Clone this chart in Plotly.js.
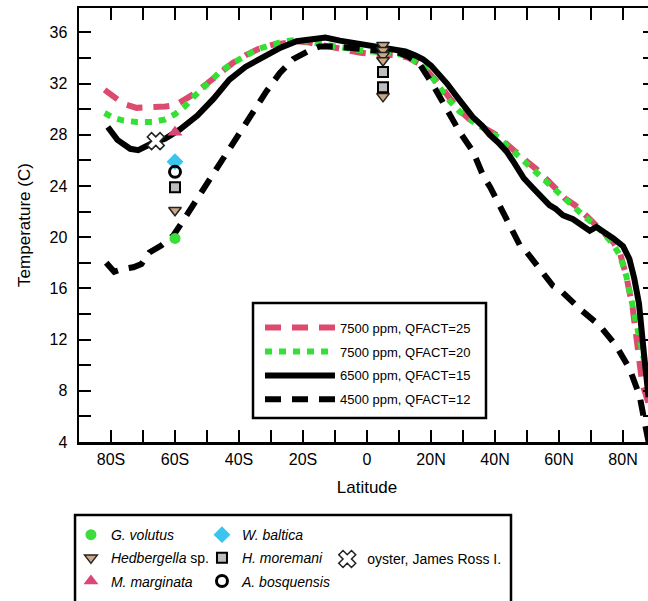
<!DOCTYPE html>
<html><head><meta charset="utf-8">
<script src="https://cdn.plot.ly/plotly-3.0.1.min.js"></script>
<style>html,body{margin:0;padding:0;overflow:hidden;background:#fff}#chart{width:680px;height:640px}</style>
</head><body><div id="chart"></div>
<script>
// ---- model curves (latitude, temperature) ----
const latQ25 = [-82,-79,-76,-72,-67,-63,-60,-57,-54,-50,-46,-42,-38,-34,-30,-26,-22,-18,-14,-10,-6,-2,2,6,10,13,16,18,20,23,26,29,32,35,38,41,44,47,50,53,56,59,62,65,68,71,74,77,79,81,83,84.5,86,88];
const tempQ25 = [31.5,30.9,30.4,30.1,30.1,30.2,30.3,30.7,31.2,32.0,32.8,33.6,34.2,34.7,35.0,35.2,35.3,35.2,35.0,34.7,34.5,34.4,34.3,34.3,34.2,34.0,33.6,33.2,32.7,31.8,30.8,29.9,29.2,28.8,28.4,27.9,27.2,26.5,25.9,25.3,24.6,23.8,23.0,22.5,21.8,21.1,20.4,19.6,18.8,17.0,14.5,11.5,8.6,7.0];

const latQ20 = [-82,-79,-76,-72,-67,-63,-60,-57,-54,-50,-46,-42,-38,-34,-30,-26,-22,-18,-14,-10,-6,-2,2,6,10,13,16,18,20,23,26,29,32,35,38,41,44,47,50,53,56,59,62,65,68,71,74,77,79,81,83,85,86.5,88];
const tempQ20 = [29.7,29.3,29.1,29.0,29.0,29.2,29.6,30.2,31.0,32.0,32.9,33.6,34.2,34.7,35.0,35.3,35.4,35.3,35.1,34.9,34.7,34.6,34.5,34.4,34.3,34.1,33.6,33.2,32.6,31.6,30.6,29.8,29.2,28.7,28.3,27.8,27.1,26.4,25.8,25.1,24.4,23.6,22.9,22.3,21.6,21.0,20.3,19.4,18.6,17.0,14.8,12.5,10.5,8.5];

const latQ15 = [-81,-78,-74,-71.5,-67.5,-63,-58.5,-53,-48,-43,-38,-32.5,-27,-22,-17,-13,-8.5,-3,3,8,12,15,17.5,20,22.7,25,28,31,33,36,38.3,41,43.6,46,49,52,54,57,59,61.3,64.4,67,69.6,71.7,74.8,77,80,82,83.5,85,86.5,88];
const tempQ15 = [28.6,27.6,26.9,26.8,27.3,27.7,28.4,29.5,30.8,32.3,33.3,34.1,34.8,35.3,35.5,35.6,35.35,35.1,34.9,34.6,34.5,34.2,33.9,33.4,32.7,32.0,31.0,30.1,29.4,28.7,28.0,27.4,26.7,25.8,24.6,23.8,23.3,22.5,22.2,21.7,21.4,21.0,20.5,20.8,20.3,19.9,19.3,18.3,16.8,14.8,11.0,7.5];

const latQ12 = [-81.5,-79,-76.5,-73,-70.5,-68,-64.3,-60.6,-56.4,-52.3,-48.1,-43.9,-39.8,-35.6,-31.4,-27.3,-23.1,-17.9,-14.8,-10,-5,0,5,10,13,16.5,20.6,24.8,29,33.1,36.3,38.5,40.4,43.6,47.7,50,54,58.1,60.2,62.3,66.5,72.7,77.9,82.1,85.2,86.8,88];
const tempQ12 = [18.0,17.3,17.5,17.65,17.9,18.8,19.35,20.1,21.7,23.3,24.8,26.4,28.0,29.8,31.4,32.8,33.9,34.6,34.9,34.9,34.8,34.7,34.6,34.4,34.1,33.5,31.9,30.1,28.2,26.7,24.8,23.9,23.0,21.4,19.4,18.8,17.5,16.2,15.9,15.4,14.4,13.1,11.5,9.7,7.6,5.5,4.0];

// ---- proxy data ----
const gvolLat = [-60], gvolT = [19.9];
const hedbLat = [-60, 5, 5, 5, 5, 5], hedbT = [22.1, 35.0, 34.6, 34.2, 33.8, 31.0];
const mmarLat = [-60], mmarT = [28.2];
const wbalLat = [-60], wbalT = [25.9];
const hmorLat = [-60, 5, 5], hmorT = [23.9, 32.9, 31.7];
const aboLat = [-60], aboT = [25.1];
const oysLat = [-66], oysT = [27.5];

// ---- ticks ----
const yTickVals = [4,6,8,10,12,14,16,18,20,22,24,26,28,30,32,34,36];
const yTickText = ['4','','8','','12','','16','','20','','24','','28','','32','','36'];
const xTickVals = [-80,-70,-60,-50,-40,-30,-20,-10,0,10,20,30,40,50,60,70,80];
const xTickText = ['80S','','60S','','40S','','20S','','0','','20N','','40N','','60N','','80N'];

const FONT = 'Liberation Sans, Arial, Helvetica, sans-serif';
const PINK = '#dc4a6e', GREEN = '#33e033';

const traces = [
  {x: latQ25, y: tempQ25, mode: 'lines', name: '7500 ppm, QFACT=25', legendgroup: 'a',
   line: {color: PINK, width: 6, dash: '16px,11px'}},
  {x: latQ20, y: tempQ20, mode: 'lines', name: '7500 ppm, QFACT=20', legendgroup: 'b',
   line: {color: GREEN, width: 6, dash: '7px,7px'}},
  {x: latQ15, y: tempQ15, mode: 'lines', name: '6500 ppm, QFACT=15', legendgroup: 'c',
   line: {color: '#000000', width: 6}},
  {x: latQ12, y: tempQ12, mode: 'lines', name: '4500 ppm, QFACT=12', legendgroup: 'd',
   line: {color: '#000000', width: 6, dash: '16px,11px'}},

  {x: gvolLat, y: gvolT, mode: 'markers', name: '<i>G. volutus</i>', legend: 'legend2', legendgroup: 'e',
   marker: {symbol: 'circle', size: 11, color: '#3ddc3d'}},
  {x: hedbLat, y: hedbT, mode: 'markers', name: '<i>Hedbergella</i> sp.', legend: 'legend2', legendgroup: 'f',
   marker: {symbol: 'triangle-down', size: 11, color: '#c9a883', line: {color: '#222', width: 1.5}}},
  {x: mmarLat, y: mmarT, mode: 'markers', name: '<i>M. marginata</i>', legend: 'legend2', legendgroup: 'g',
   marker: {symbol: 'triangle-up', size: 13, color: '#d9467a'}},
  {x: wbalLat, y: wbalT, mode: 'markers', name: '<i>W. baltica</i>', legend: 'legend3', legendgroup: 'h',
   marker: {symbol: 'diamond', size: 13, color: '#3cc4ee'}},
  {x: hmorLat, y: hmorT, mode: 'markers', name: '<i>H. moremani</i>', legend: 'legend3', legendgroup: 'i',
   marker: {symbol: 'square', size: 10, color: '#bdbdbd', line: {color: '#000', width: 2}}},
  {x: aboLat, y: aboT, mode: 'markers', name: '<i>A. bosquensis</i>', legend: 'legend3', legendgroup: 'j',
   marker: {symbol: 'circle-open', size: 11, color: '#000', line: {color: '#000', width: 3}}},
  {x: oysLat, y: oysT, mode: 'markers', name: 'oyster, James Ross I.', legend: 'legend4', legendgroup: 'k',
   marker: {symbol: 'x', size: 15, color: '#ffffff', line: {color: '#222', width: 1.5}}}
];

const axisCommon = {
  showline: true, linecolor: '#000', linewidth: 2.5, mirror: 'ticks',
  ticks: 'inside', ticklen: 12, tickwidth: 2, tickcolor: '#000',
  showgrid: false, zeroline: false, tickmode: 'array',
  tickfont: {family: FONT, size: 16, color: '#000'}
};

const legendCommon = {
  bgcolor: 'rgba(0,0,0,0)', borderwidth: 0, orientation: 'v',
  xanchor: 'left', yanchor: 'top', tracegroupgap: 4
};

const layout = {
  width: 680, height: 640,
  margin: {l: 79, r: 25, t: 8, b: 198},
  paper_bgcolor: '#fff', plot_bgcolor: '#fff',
  font: {family: FONT, color: '#000'},
  xaxis: Object.assign({}, axisCommon, {
    range: [-90, 90], tickvals: xTickVals, ticktext: xTickText, ticklabelstandoff: 1,
    title: {text: 'Latitude', font: {family: FONT, size: 17, color: '#000'}, standoff: 15}
  }),
  yaxis: Object.assign({}, axisCommon, {
    range: [4, 37.9], tickvals: yTickVals, ticktext: yTickText, ticklabelstandoff: 6,
    title: {text: 'Temperature (C)', font: {family: FONT, size: 17, color: '#000'}, standoff: 15}
  }),
  legend: Object.assign({}, legendCommon, {
    x: 0.3142, y: 0.298, itemwidth: 70, tracegroupgap: 4, font: {family: FONT, size: 13, color: '#000'}
  }),
  legend2: Object.assign({}, legendCommon, {
    x: -0.014, y: -0.1775, font: {family: FONT, size: 14, color: '#000'}, tracegroupgap: 2
  }),
  legend3: Object.assign({}, legendCommon, {
    x: 0.2135, y: -0.1775, font: {family: FONT, size: 14, color: '#000'}, tracegroupgap: 2
  }),
  legend4: Object.assign({}, legendCommon, {
    x: 0.431, y: -0.2335, font: {family: FONT, size: 14, color: '#000'}
  }),
  shapes: [
    {type: 'rect', xref: 'paper', yref: 'paper', x0: 0.3021, x1: 0.7066, y0: 0.0553, y1: 0.3203,
     line: {color: '#000', width: 2.5}, fillcolor: '#fff', layer: 'below'},
    {type: 'rect', xref: 'paper', yref: 'paper', x0: -0.0069, x1: 0.75, y0: -0.5, y1: -0.1682,
     line: {color: '#000', width: 2.5}, fillcolor: 'rgba(0,0,0,0)', layer: 'above'}
  ],
  showlegend: true
};

Plotly.newPlot('chart', traces, layout, {displayModeBar: false, staticPlot: true});
</script>
</body></html>
